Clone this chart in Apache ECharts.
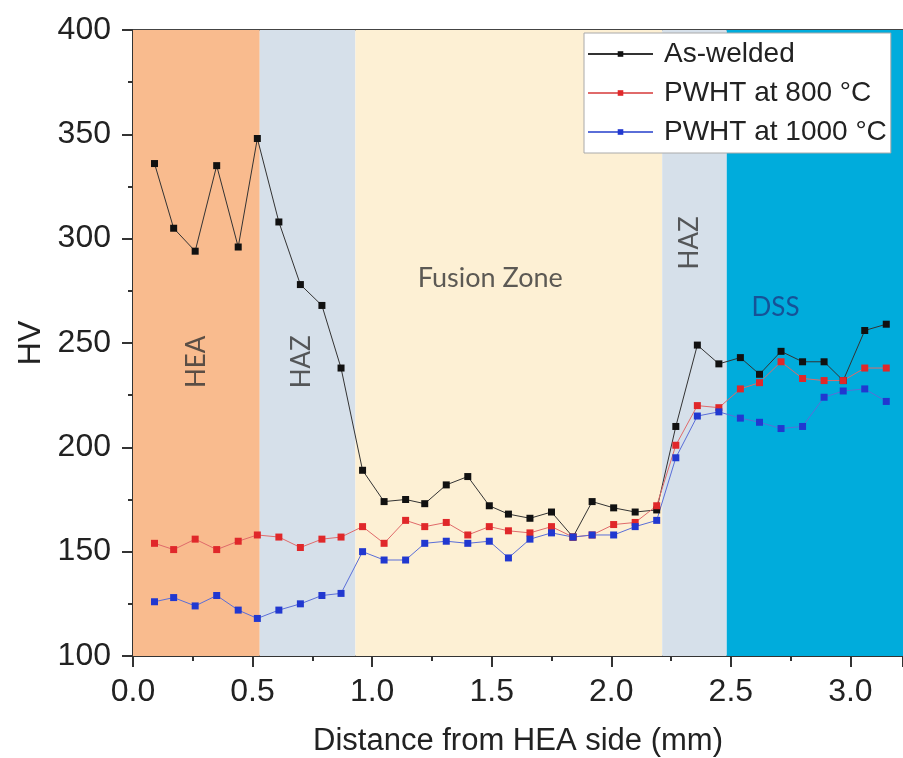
<!DOCTYPE html>
<html style="height: 100%">
  <head>
    <meta charset="utf-8" />
  </head>
  <body style="height: 100%; margin: 0; background: #fff">
    <div id="container" style="width: 903px; height: 758px"></div>

    <script
      type="text/javascript"
      src="https://cdn.jsdelivr.net/npm/echarts@6/dist/echarts.min.js"
    ></script>

    <script type="text/javascript">
      // distance from HEA side (mm)
      var distance = [
        0.09, 0.17, 0.26, 0.35, 0.44, 0.52, 0.61, 0.7, 0.79, 0.87, 0.96, 1.05,
        1.14, 1.22, 1.31, 1.4, 1.49, 1.57, 1.66, 1.75, 1.84, 1.92, 2.01, 2.1,
        2.19, 2.27, 2.36, 2.45, 2.54, 2.62, 2.71, 2.8, 2.89, 2.97, 3.06, 3.15
      ];
      var asWelded = [
        336, 305, 294, 335, 296, 348, 308, 278, 268, 238, 189, 174,
        175, 173, 182, 186, 172, 168, 166, 169, 157, 174, 171, 169,
        170, 210, 249, 240, 243, 235, 246, 241, 241, 232, 256, 259
      ];
      var pwht800 = [
        154, 151, 156, 151, 155, 158, 157, 152, 156, 157, 162, 154,
        165, 162, 164, 158, 162, 160, 159, 162, 157, 158, 163, 164,
        172, 201, 220, 219, 228, 231, 241, 233, 232, 232, 238, 238
      ];
      var pwht1000 = [
        126, 128, 124, 129, 122, 118, 122, 125, 129, 130, 150, 146,
        146, 154, 155, 154, 155, 147, 156, 159, 157, 158, 158, 162,
        165, 195, 215, 217, 214, 212, 209, 210, 224, 227, 228, 222
      ];
      // zone boundaries (mm)
      var zoneNames = ["HEA", "HAZ", "Fusion Zone", "HAZ", "DSS"];
      var zoneEdges = [0, 0.53, 0.93, 2.213, 2.483, 3.22];
      var zoneColors = ["#f9bb8e", "#d6e0ea", "#fdf0d4", "#d6e0ea", "#00acdc"];
      // label anchor [x, HV, rotation]
      var zoneLabelPos = [
        [0.266, 241, 90],
        [0.705, 241, 90],
        [1.494, 281, 0],
        [2.328, 298, 90],
        [2.687, 267, 0]
      ];
      var zoneLabelColors = ["#333", "#333", "#333", "#333", "#1b3c86"];

      var dom = document.getElementById("container");
      var myChart = echarts.init(dom);

      function pairs(ys) {
        return distance.map(function (x, i) {
          return [x, ys[i]];
        });
      }

      var areas = [];
      for (var i = 0; i < zoneNames.length; i++) {
        areas.push([
          { xAxis: zoneEdges[i], itemStyle: { color: zoneColors[i] } },
          { xAxis: zoneEdges[i + 1] }
        ]);
      }

      var zoneLabels = zoneNames.map(function (n, i) {
        return {
          value: [zoneLabelPos[i][0], zoneLabelPos[i][1]],
          label: {
            show: true,
            formatter: n,
            rotate: zoneLabelPos[i][2],
            color: zoneLabelColors[i],
            fontSize: n === "Fusion Zone" ? 27 : 26
          }
        };
      });

      function lineSeries(name, ys, lineColor, dotColor) {
        return {
          name: name,
          type: "line",
          data: pairs(ys),
          symbol: "rect",
          symbolSize: 7,
          z: 5,
          itemStyle: { color: dotColor },
          lineStyle: { color: lineColor, width: 1 },
          emphasis: { disabled: true }
        };
      }

      var fontAxis = "Liberation Sans, Arial, sans-serif";

      option = {
        animation: false,
        backgroundColor: "#fff",
        grid: { left: 133, right: 0, top: 30, bottom: 102, outerBoundsMode: "none" },
        legend: {
          data: ["As-welded", "PWHT at 800 °C", "PWHT at 1000 °C"],
          orient: "vertical",
          left: 584,
          top: 33,
          padding: [6, 4, 6, 3],
          itemGap: 9,
          itemWidth: 65,
          itemHeight: 7,
          backgroundColor: "#fff",
          borderColor: "#aaa",
          borderWidth: 1,
          borderRadius: 0,
          selectedMode: false,
          textStyle: {
            fontFamily: fontAxis,
            fontSize: 28,
            color: "#222",
            lineHeight: 30,
            padding: [0, 0, 0, 6]
          }
        },
        xAxis: [
          {
            type: "value",
            min: 0,
            max: 3.22,
            interval: 0.5,
            name: "Distance from HEA side (mm)",
            nameLocation: "middle",
            nameGap: 70,
            nameTextStyle: { fontFamily: fontAxis, fontSize: 31, color: "#222" },
            axisLine: { onZero: false, lineStyle: { color: "#333", width: 2 } },
            axisTick: { inside: false, length: 11, lineStyle: { color: "#333", width: 2 } },
            minorTick: { show: true, splitNumber: 2, length: 5, lineStyle: { color: "#333", width: 2 } },
            axisLabel: {
              fontFamily: fontAxis,
              fontSize: 32,
              color: "#222",
              margin: 20,
              showMaxLabel: false,
              formatter: function (v) {
                return v.toFixed(1);
              }
            },
            splitLine: { show: false }
          },
          {
            type: "value",
            position: "top",
            min: 0,
            max: 3.22,
            axisLine: { onZero: false, lineStyle: { color: "#444", width: 2 } },
            axisTick: { show: false },
            axisLabel: { show: false },
            splitLine: { show: false }
          }
        ],
        yAxis: {
          type: "value",
          min: 100,
          max: 400,
          interval: 50,
          name: "HV",
          nameLocation: "middle",
          nameGap: 86,
          nameTextStyle: { fontFamily: fontAxis, fontSize: 32, color: "#222" },
          axisLine: { show: true, lineStyle: { color: "#333", width: 2 } },
          axisTick: { inside: false, length: 11, lineStyle: { color: "#333", width: 2 } },
          minorTick: { show: true, splitNumber: 2, length: 5, lineStyle: { color: "#333", width: 2 } },
          axisLabel: { fontFamily: fontAxis, fontSize: 32, color: "#222", margin: 22 },
          splitLine: { show: false }
        },
        series: [
          {
            name: "zones",
            type: "scatter",
            data: zoneLabels,
            symbolSize: 0,
            z: 3,
            silent: true,
            label: {
              position: "inside",
              fontFamily: "Lato, Open Sans, sans-serif"
            },
            labelLayout: { hideOverlap: false },
            markArea: {
              silent: true,
              z: 1,
              data: areas
            }
          },
          lineSeries("As-welded", asWelded, "#333", "#111"),
          lineSeries("PWHT at 800 °C", pwht800, "#e06a6a", "#e0282a"),
          lineSeries("PWHT at 1000 °C", pwht1000, "#5a6ed8", "#2138d0")
        ]
      };

      option && myChart.setOption(option);
    </script>
  </body>
</html>
